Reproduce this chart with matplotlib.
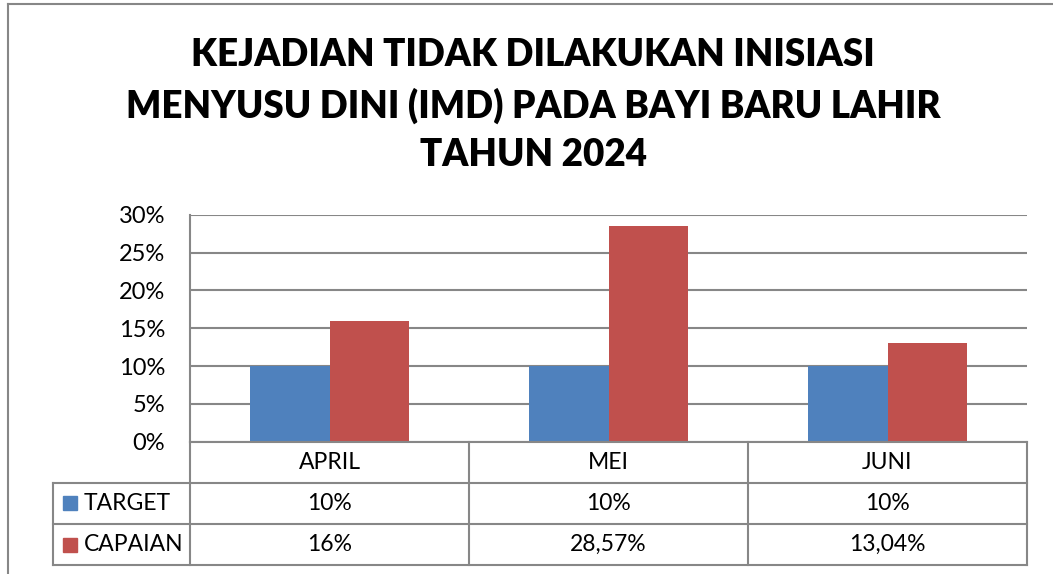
import matplotlib
matplotlib.use("Agg")
import matplotlib.pyplot as plt
from matplotlib.lines import Line2D
from matplotlib.patches import Rectangle

categories = ["APRIL", "MEI", "JUNI"]
series_names = ["TARGET", "CAPAIAN"]
target = [10, 10, 10]
capaian = [16, 28.57, 13.04]
yticks = [0, 5, 10, 15, 20, 25, 30]
title = "KEJADIAN TIDAK DILAKUKAN INISIASI\nMENYUSU DINI (IMD) PADA BAYI BARU LAHIR\nTAHUN 2024"

colors = ["#4F81BD", "#C0504D"]
grid_c = "#878787"
FONT = "Lato"

W, H = 1053, 574
fig = plt.figure(figsize=(W / 100, H / 100), dpi=100)

def fx(px):
    return px / W

def fy(py):
    return 1 - py / H

L, R, T, B = 190, 1027, 214.7, 441.7
ax = fig.add_axes([fx(L), fy(B), fx(R) - fx(L), fy(T) - fy(B)])

n = len(categories)
w = 1 / 3.5
xs = list(range(n))
ax.bar([x - w / 2 for x in xs], target, width=w, color=colors[0], zorder=3)
ax.bar([x + w / 2 for x in xs], capaian, width=w, color=colors[1], zorder=3)
ax.set_xlim(-0.5, n - 0.5)
ax.set_ylim(0, 30)
ax.set_yticks(yticks)
ax.set_yticklabels([f"{v}%" for v in yticks], fontsize=17, family=FONT)
ax.set_xticks([])
ax.tick_params(axis="y", length=0, pad=18)
for s in ["top", "right", "bottom"]:
    ax.spines[s].set_visible(False)
ax.spines["left"].set_color(grid_c)
ax.spines["left"].set_linewidth(1.5)
ax.yaxis.grid(True, color=grid_c, linewidth=1.5, zorder=0)
ax.set_axisbelow(True)

# data table below the plot
rows_y = [441.7, 482.7, 524.0, 565.0]
col_x = [L + (R - L) * i / n for i in range(n + 1)]
left_col = 53

def hline(y, x0, x1):
    fig.add_artist(Line2D([fx(x0), fx(x1)], [fy(y), fy(y)], color=grid_c, lw=1.5))

def vline(x, y0, y1):
    fig.add_artist(Line2D([fx(x), fx(x)], [fy(y0), fy(y1)], color=grid_c, lw=1.5))

hline(rows_y[0], L, R)
for y in rows_y[1:]:
    hline(y, left_col, R)
vline(left_col, rows_y[1], rows_y[3])
vline(L, rows_y[0], rows_y[3])
for x in col_x[1:]:
    vline(x, rows_y[0], rows_y[3])

def fmt(v):
    if float(v).is_integer():
        return f"{int(v)}%"
    return f"{v:.2f}%".replace(".", ",")

for i, c in enumerate(categories):
    cx = (col_x[i] + col_x[i + 1]) / 2
    fig.text(fx(cx), fy((rows_y[0] + rows_y[1]) / 2), c, ha="center", va="center",
             fontsize=16.5, family=FONT)
    for r, vals in enumerate([target, capaian]):
        fig.text(fx(cx), fy((rows_y[r + 1] + rows_y[r + 2]) / 2), fmt(vals[i]),
                 ha="center", va="center", fontsize=16.5, family=FONT)

for r, name in enumerate(series_names):
    cy = (rows_y[r + 1] + rows_y[r + 2]) / 2
    fig.add_artist(Rectangle((fx(63), fy(cy + 7)), fx(14), fy(0) - fy(14),
                             color=colors[r], transform=fig.transFigure))
    fig.text(fx(84), fy(cy), name, ha="left", va="center", fontsize=16.5, family=FONT)

# title
fig.text(fx(533), fy(105), title, ha="center", va="center", fontsize=26.5,
         fontweight="heavy", family=FONT, linespacing=1.5)

# outer chart border
fig.add_artist(Line2D([fx(8), fx(8)], [fy(4), 0], color=grid_c, lw=1.5))
fig.add_artist(Line2D([fx(8), 1], [fy(4), fy(4)], color=grid_c, lw=1.5))

fig.savefig("out.png", dpi=100, facecolor="white")
